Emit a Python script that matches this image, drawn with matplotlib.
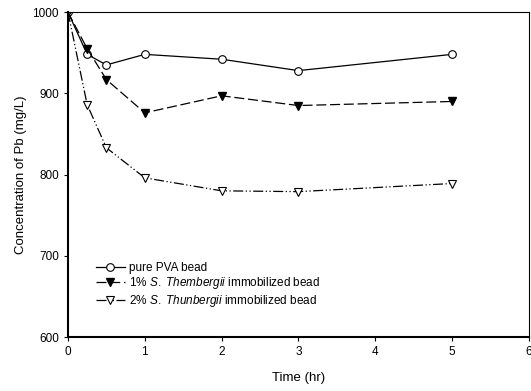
import matplotlib
matplotlib.use("Agg")
import matplotlib.pyplot as plt

plt.rcParams['font.family'] = ['Liberation Sans', 'DejaVu Sans']
plt.rcParams['mathtext.fontset'] = 'custom'
plt.rcParams['mathtext.rm'] = 'Liberation Sans'
plt.rcParams['mathtext.it'] = 'Liberation Sans:italic'

time = [0, 0.25, 0.5, 1, 2, 3, 5]
pva = [1000, 948, 935, 948, 942, 928, 948]
s1 = [1000, 955, 917, 876, 897, 885, 890]
s2 = [1000, 886, 833, 796, 780, 779, 789]

fig = plt.figure(figsize=(5.31, 3.91), dpi=100)
ax = fig.add_axes([0.128, 0.138, 0.868, 0.831])

ax.plot(time, pva, color='black', lw=0.9, ls='-', marker='o', ms=5.5,
        mfc='white', mec='black', mew=0.8, label='pure PVA bead')
ax.plot(time, s1, color='black', lw=0.9, ls=(0, (8, 3)), marker='v', ms=6,
        mfc='black', mec='black', label=r'1% $\mathit{S.}$ $\mathit{Thembergii}$ immobilized bead')
ax.plot(time, s2, color='black', lw=0.9, ls=(0, (8, 2, 1, 2, 1, 2)), marker='v', ms=6,
        mfc='white', mec='black', mew=0.8, label=r'2% $\mathit{S.}$ $\mathit{Thunbergii}$ immobilized bead')

ax.set_xlim(0, 6)
ax.set_ylim(600, 1000)
ax.set_xticks([0, 1, 2, 3, 4, 5, 6])
ax.set_yticks([600, 700, 800, 900, 1000])
ax.tick_params(direction='out', length=3, width=0.8, labelsize=8.5)
for s in ['left', 'bottom']:
    ax.spines[s].set_linewidth(1.5)
for s in ['top', 'right']:
    ax.spines[s].set_linewidth(0.8)

ax.set_xlabel('Time (hr)', fontsize=9.5, labelpad=10)
ax.set_ylabel('Concentration of Pb (mg/L)', fontsize=9.5)

leg = ax.legend(loc='lower left', bbox_to_anchor=(0.042, 0.062), frameon=False,
                fontsize=8.5, handlelength=2.5, labelspacing=0.1, handletextpad=0.3,
                borderpad=0.2)

fig.savefig('out.png', dpi=100)
